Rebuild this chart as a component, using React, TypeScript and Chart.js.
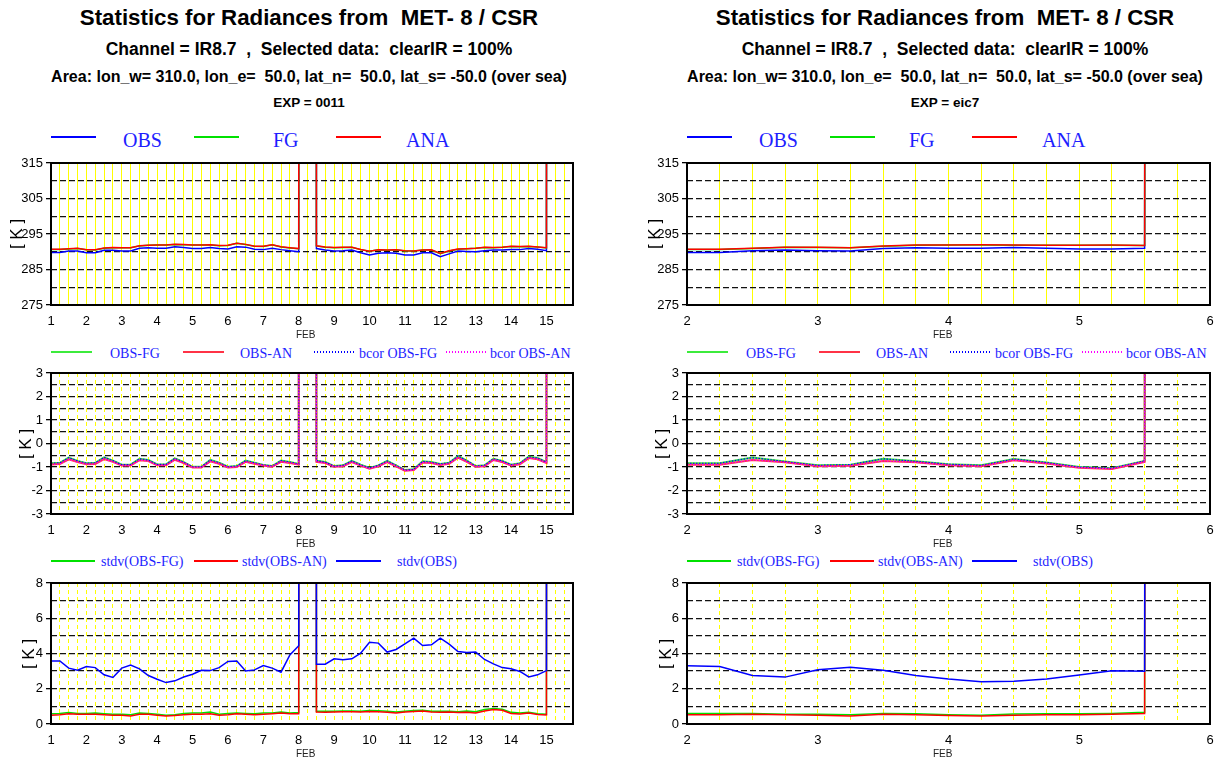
import React, { useEffect, useRef } from "react";
import { Chart, registerables } from "chart.js";

Chart.register(...registerables);

const M = 9999; // missing value marker (drawn off-scale as in the original)

// ---------- time axes (days of FEB) ----------
const xsLeft = [1, 1.25, 1.5, 1.75, 2, 2.25, 2.5, 2.75, 3, 3.25, 3.5, 3.75, 4, 4.25, 4.5, 4.75, 5, 5.25, 5.5, 5.75, 6, 6.25, 6.5, 6.75, 7, 7.25, 7.5, 7.75, 8, 8.25, 8.5, 8.75, 9, 9.25, 9.5, 9.75, 10, 10.25, 10.5, 10.75, 11, 11.25, 11.5, 11.75, 12, 12.25, 12.5, 12.75, 13, 13.25, 13.5, 13.75, 14, 14.25, 14.5, 14.75, 15, 15.25];
const xsRight = [2, 2.25, 2.5, 2.75, 3, 3.25, 3.5, 3.75, 4, 4.25, 4.5, 4.75, 5, 5.25, 5.5, 5.75];

const xTickLabelsLeft = [1, 2, 3, 4, 5, 6, 7, 8, 9, 10, 11, 12, 13, 14, 15];
const xTickLabelsRight = [2, 3, 4, 5, 6];
const yTickLabels1 = [275, 285, 295, 305, 315];
const yTickLabels2 = [-3, -2, -1, 0, 1, 2, 3];
const yTickLabels3 = [0, 2, 4, 6, 8];

// ---------- left column (EXP = 0011) ----------
const obsLeft = [289.8, 289.8, 290.2, 290.2, 289.7, 289.7, 290.4, 290.4, 290.2, 290.2, 291.0, 291.1, 291.0, 291.0, 291.4, 291.2, 290.9, 290.9, 291.2, 290.9, 290.8, 291.4, 291.3, 290.7, 290.6, 291.0, 290.6, 290.3, 290.0, M,
  290.9, 290.5, 290.2, 290.3, 290.5, 289.7, 289.1, 289.6, 289.7, 289.6, 289.1, 289.1, 289.7, 289.7, 288.6, 289.4, 290.2, 290.1, 290.0, 290.3, 290.5, 290.5, 290.6, 290.6, 290.9, 290.7, 290.3, M];
const fgLeft = [290.64, 290.62, 290.80, 290.94, 290.54, 290.52, 290.99, 291.13, 291.10, 291.10, 291.65, 291.80, 291.89, 291.89, 292.03, 291.99, 291.89, 291.89, 291.90, 291.72, 291.79, 292.36, 292.03, 291.52, 291.51, 291.96, 291.33, 291.09, 290.87, M,
  291.63, 291.29, 291.16, 291.23, 291.24, 290.60, 290.14, 290.53, 290.44, 290.53, 290.23, 290.20, 290.46, 290.49, 289.47, 290.22, 290.73, 290.83, 290.96, 291.23, 291.15, 291.24, 291.50, 291.44, 291.46, 291.32, 291.09, M];
const anaLeft = [290.69, 290.67, 290.87, 290.99, 290.58, 290.57, 291.06, 291.18, 291.14, 291.14, 291.71, 291.85, 291.93, 291.93, 292.09, 292.03, 291.92, 291.92, 291.96, 291.76, 291.82, 292.40, 292.08, 291.56, 291.54, 291.99, 291.38, 291.13, 290.90, M,
  291.68, 291.33, 291.19, 291.27, 291.29, 290.64, 290.17, 290.57, 290.49, 290.57, 290.26, 290.23, 290.51, 290.53, 289.51, 290.26, 290.80, 290.88, 290.99, 291.27, 291.20, 291.29, 291.54, 291.48, 291.52, 291.37, 291.13, M];
const obsFgLeft = [-0.84, -0.82, -0.60, -0.74, -0.84, -0.82, -0.59, -0.73, -0.90, -0.90, -0.65, -0.70, -0.89, -0.89, -0.63, -0.79, -0.99, -0.99, -0.70, -0.82, -0.99, -0.96, -0.73, -0.82, -0.91, -0.96, -0.73, -0.79, -0.87, M,
  -0.73, -0.79, -0.96, -0.93, -0.74, -0.90, -1.04, -0.93, -0.74, -0.93, -1.13, -1.10, -0.76, -0.79, -0.87, -0.82, -0.53, -0.73, -0.96, -0.93, -0.65, -0.74, -0.90, -0.84, -0.56, -0.62, -0.79, M];
const obsAnLeft = [-0.89, -0.87, -0.67, -0.79, -0.88, -0.87, -0.66, -0.78, -0.94, -0.94, -0.71, -0.75, -0.93, -0.93, -0.69, -0.83, -1.02, -1.02, -0.76, -0.86, -1.02, -1.00, -0.78, -0.86, -0.94, -0.99, -0.78, -0.83, -0.90, M,
  -0.78, -0.83, -0.99, -0.97, -0.79, -0.94, -1.07, -0.97, -0.79, -0.97, -1.16, -1.13, -0.81, -0.83, -0.91, -0.86, -0.60, -0.78, -0.99, -0.97, -0.70, -0.79, -0.94, -0.88, -0.62, -0.67, -0.83, M];
const bcorObsFgLeft = obsFgLeft; // bias-corrected departures coincide with raw ones
const bcorObsAnLeft = obsAnLeft;
const stdvObsLeft = [3.58, 3.58, 3.17, 3.05, 3.26, 3.20, 2.79, 2.64, 3.17, 3.34, 3.13, 2.75, 2.54, 2.35, 2.45, 2.67, 2.82, 3.05, 3.03, 3.20, 3.55, 3.58, 3.01, 3.07, 3.32, 3.17, 2.94, 3.92, 4.44, M,
  3.39, 3.39, 3.70, 3.64, 3.70, 4.02, 4.64, 4.59, 4.08, 4.23, 4.55, 4.87, 4.45, 4.49, 4.87, 4.53, 4.11, 4.06, 4.09, 3.66, 3.41, 3.20, 3.13, 2.98, 2.67, 2.79, 3.03, M];
const stdvFgLeft = [0.58, 0.60, 0.65, 0.60, 0.60, 0.62, 0.58, 0.55, 0.55, 0.52, 0.62, 0.60, 0.55, 0.50, 0.52, 0.60, 0.62, 0.62, 0.68, 0.56, 0.60, 0.62, 0.60, 0.58, 0.62, 0.62, 0.68, 0.62, 0.65, M,
  0.72, 0.72, 0.73, 0.74, 0.74, 0.73, 0.76, 0.75, 0.72, 0.68, 0.73, 0.76, 0.78, 0.73, 0.72, 0.72, 0.70, 0.74, 0.70, 0.82, 0.88, 0.84, 0.66, 0.62, 0.66, 0.58, 0.55, M];
const stdvAnLeft = [0.50, 0.52, 0.58, 0.55, 0.55, 0.55, 0.52, 0.50, 0.50, 0.45, 0.55, 0.55, 0.50, 0.45, 0.48, 0.52, 0.55, 0.55, 0.58, 0.50, 0.52, 0.58, 0.55, 0.52, 0.55, 0.58, 0.62, 0.58, 0.58, M,
  0.68, 0.67, 0.68, 0.70, 0.69, 0.68, 0.71, 0.70, 0.66, 0.62, 0.68, 0.71, 0.74, 0.68, 0.67, 0.68, 0.65, 0.66, 0.62, 0.74, 0.82, 0.78, 0.60, 0.57, 0.62, 0.54, 0.51, M];

// ---------- right column (EXP = eic7) ----------
const obsRight = [289.8, 289.8, 290.3, 290.5, 290.3, 290.2, 290.9, 291.1, 291.0, 291.0, 291.2, 291.0, 290.8, 290.8, 291.0, M];
const fgRight = [290.64, 290.64, 290.90, 291.27, 291.23, 291.10, 291.55, 291.86, 291.88, 291.93, 291.86, 291.81, 291.80, 291.85, 291.74, M];
const anaRight = [290.70, 290.70, 291.00, 291.30, 291.27, 291.15, 291.64, 291.90, 291.93, 291.97, 291.91, 291.85, 291.83, 291.88, 291.78, M];
const obsFgRight = [-0.84, -0.84, -0.60, -0.77, -0.93, -0.90, -0.65, -0.76, -0.88, -0.93, -0.66, -0.81, -1.00, -1.05, -0.74, M];
const obsAnRight = [-0.90, -0.90, -0.70, -0.80, -0.97, -0.95, -0.74, -0.80, -0.93, -0.97, -0.71, -0.85, -1.03, -1.08, -0.78, M];
const bcorObsFgRight = obsFgRight;
const bcorObsAnRight = obsAnRight;
const stdvObsRight = [3.30, 3.26, 2.75, 2.66, 3.08, 3.22, 3.05, 2.75, 2.55, 2.40, 2.43, 2.55, 2.78, 3.02, 3.00, M];
const stdvFgRight = [0.60, 0.60, 0.60, 0.56, 0.55, 0.52, 0.60, 0.58, 0.52, 0.50, 0.57, 0.58, 0.58, 0.60, 0.66, M];
const stdvAnRight = [0.52, 0.53, 0.56, 0.53, 0.50, 0.46, 0.55, 0.53, 0.48, 0.46, 0.50, 0.52, 0.52, 0.55, 0.60, M];

// ---------- texts ----------
const titleLine1 = "Statistics for Radiances from  MET- 8 / CSR";
const titleLine2 = "Channel = IR8.7  ,  Selected data:  clearIR = 100%";
const titleLine3 = "Area: lon_w= 310.0, lon_e=  50.0, lat_n=  50.0, lat_s= -50.0 (over sea)";
const expNames = ["0011", "eic7"];

// ---------- styling / layout ----------
const SANS = "'Liberation Sans', Arial, Helvetica, sans-serif";
const SERIF = "'Liberation Serif', 'Times New Roman', serif";
const BLUE = "rgb(0,0,255)";
const GREEN = "rgb(0,225,0)";
const RED = "rgb(255,0,0)";
const LGREEN = "rgb(60,235,60)";
const LRED = "rgb(255,50,70)";
const MAGENTA = "rgb(255,0,255)";
const TEXTBLUE = "rgb(30,30,255)";

const PAD_T = 12;
const PAD_R = 16;
const Y_W = 51;
const X_H = 30;
const COL_SHIFT = 636;
const PLOT_L = 51;
const PLOT_W_LEFT = 522;
const PLOT_W_RIGHT = 523;
const PANEL_TOPS = [163, 373, 583];
const PANEL_H = [142, 141, 141];

const framePlugin = {
  id: "frame",
  afterDraw(chart: any) {
    const { ctx, chartArea: a } = chart;
    ctx.save();
    ctx.strokeStyle = "#000";
    ctx.lineWidth = 2;
    ctx.strokeRect(a.left, a.top, a.right - a.left, a.bottom - a.top);
    ctx.restore();
  },
};

type Series = { values: number[]; color: string; width: number; dash?: number[] };

// series are given in drawing order (last one on top); Chart.js paints dataset 0 last,
// so the list is reversed when handed to the library.
function buildConfig(
  xs: number[],
  series: Series[],
  xMin: number,
  xMax: number,
  xLabels: number[],
  yMin: number,
  yMax: number,
  yStep: number,
  yLabels: number[],
  yellowDash: number[]
) {
  const isY = (v: number) => yLabels.some((l) => Math.abs(l - v) < 1e-6);
  const isX = (v: number) => xLabels.some((l) => Math.abs(l - v) < 1e-6);
  return {
    type: "line" as const,
    data: {
      datasets: series
        .slice()
        .reverse()
        .map((s) => ({
          data: xs.map((x, i) => ({ x, y: s.values[i] })),
          borderColor: s.color,
          borderWidth: s.width,
          borderDash: s.dash || [],
          pointRadius: 0,
          tension: 0,
          fill: false,
        })),
    },
    options: {
      animation: false,
      responsive: false,
      maintainAspectRatio: false,
      events: [],
      layout: { padding: { top: PAD_T, right: PAD_R, left: 0, bottom: 0 } },
      plugins: { legend: { display: false }, tooltip: { enabled: false }, title: { display: false } },
      scales: {
        x: {
          type: "linear",
          min: xMin,
          max: xMax,
          afterFit: (s: any) => {
            s.height = X_H;
          },
          ticks: {
            stepSize: 0.25,
            autoSkip: false,
            maxRotation: 0,
            minRotation: 0,
            padding: 9,
            color: "#000",
            font: { family: SANS, size: 13 },
            callback: (v: any) => (isX(Number(v)) ? String(v) : ""),
          },
          grid: { color: "#ffff00", lineWidth: 1, drawTicks: false, z: -2 },
          border: { display: false, dash: yellowDash },
        },
        y: {
          type: "linear",
          min: yMin,
          max: yMax,
          afterFit: (s: any) => {
            s.width = Y_W;
          },
          ticks: {
            stepSize: yStep,
            autoSkip: false,
            padding: 3,
            color: "#000",
            font: { family: SANS, size: 13 },
            callback: (v: any) => (isY(Number(v)) ? String(v) : ""),
          },
          grid: {
            color: "#111",
            lineWidth: 1.3,
            tickLength: 5,
            tickColor: (c: any) => (c.tick && isY(c.tick.value) ? "#000" : "rgba(0,0,0,0)"),
            z: -1,
          },
          border: { display: false, dash: [6, 3] },
        },
      },
    },
    plugins: [framePlugin],
  };
}

type PanelDef = { left: number; top: number; w: number; h: number; config: any };

function ChartPanel({ p }: { p: PanelDef }) {
  const ref = useRef<HTMLCanvasElement | null>(null);
  const cw = p.w + Y_W + PAD_R;
  const chh = p.h + PAD_T + X_H;
  useEffect(() => {
    if (!ref.current) return;
    const chart = new Chart(ref.current, p.config);
    return () => chart.destroy();
  }, []);
  return (
    <canvas
      ref={ref}
      width={cw}
      height={chh}
      style={{ position: "absolute", left: p.left - Y_W, top: p.top - PAD_T, width: cw, height: chh }}
    />
  );
}

function Txt(props: { x: number; cy: number; size: number; family: string; color?: string; bold?: boolean; children: any; center?: boolean }) {
  const { x, cy, size, family, color, bold, children, center } = props;
  const style: any = {
    position: "absolute",
    top: cy - size * 0.5,
    fontFamily: family,
    fontSize: size,
    lineHeight: 1,
    fontWeight: bold ? "bold" : "normal",
    color: color || "#000",
    whiteSpace: "pre",
  };
  if (center) {
    style.left = x - 400;
    style.width = 800;
    style.textAlign = "center";
  } else {
    style.left = x;
  }
  return <div style={style}>{children}</div>;
}

function Seg(props: { x1: number; x2: number; y: number; color: string; width: number; dotted?: boolean }) {
  const { x1, x2, y, color, width, dotted } = props;
  const bg = dotted
    ? `repeating-linear-gradient(90deg, ${color} 0px, ${color} 1.5px, transparent 1.5px, transparent 3px)`
    : color;
  return (
    <div style={{ position: "absolute", left: x1, top: y - width / 2, width: x2 - x1, height: width, background: bg }} />
  );
}

function Column({ col }: { col: number }) {
  const dx = col * COL_SHIFT;
  const left = col === 0;
  const xs = left ? xsLeft : xsRight;
  const xMin = left ? 1 : 2;
  const xMax = left ? 15.75 : 6;
  const xLabels = left ? xTickLabelsLeft : xTickLabelsRight;
  const w = left ? PLOT_W_LEFT : PLOT_W_RIGHT;
  const plotL = PLOT_L + dx;
  const yellowSolid: number[] = [];
  const yellowDashed = [4, 3];

  const p1: PanelDef = {
    left: plotL, top: PANEL_TOPS[0], w, h: PANEL_H[0],
    config: buildConfig(xs, [
      { values: left ? obsLeft : obsRight, color: BLUE, width: 1.5 },
      { values: left ? fgLeft : fgRight, color: GREEN, width: 1.5 },
      { values: left ? anaLeft : anaRight, color: RED, width: 1.5 },
    ], xMin, xMax, xLabels, 275, 315, 5, yTickLabels1, yellowSolid),
  };
  const p2: PanelDef = {
    left: plotL, top: PANEL_TOPS[1], w, h: PANEL_H[1],
    config: buildConfig(xs, [
      { values: left ? obsFgLeft : obsFgRight, color: LGREEN, width: 2 },
      { values: left ? obsAnLeft : obsAnRight, color: LRED, width: 2 },
      { values: left ? bcorObsFgLeft : bcorObsFgRight, color: BLUE, width: 1.2, dash: [1.5, 1.5] },
      { values: left ? bcorObsAnLeft : bcorObsAnRight, color: MAGENTA, width: 1.2, dash: [1.5, 1.5] },
    ], xMin, xMax, xLabels, -3, 3, 0.5, yTickLabels2, yellowDashed),
  };
  const p3: PanelDef = {
    left: plotL, top: PANEL_TOPS[2], w, h: PANEL_H[2],
    config: buildConfig(xs, [
      { values: left ? stdvFgLeft : stdvFgRight, color: GREEN, width: 1.5 },
      { values: left ? stdvAnLeft : stdvAnRight, color: RED, width: 1.5 },
      { values: left ? stdvObsLeft : stdvObsRight, color: BLUE, width: 1.5 },
    ], xMin, xMax, xLabels, 0, 8, 1, yTickLabels3, yellowDashed),
  };

  const cx = 309 + dx;
  const kx = left ? [16, 25, 28] : [654, 661, 665];
  const febX = left ? 296 : 933;
  const febY = [334.5, 543.5, 753.5];

  return (
    <>
      <Txt x={cx} cy={18} size={22.3} family={SANS} bold center>{titleLine1}</Txt>
      <Txt x={cx} cy={50} size={17.5} family={SANS} bold center>{titleLine2}</Txt>
      <Txt x={cx} cy={77} size={16} family={SANS} bold center>{titleLine3}</Txt>
      <Txt x={cx} cy={103} size={13.5} family={SANS} bold center>{"EXP = " + expNames[col]}</Txt>

      {/* legend row 1 */}
      <Seg x1={51 + dx} x2={96 + dx} y={137} color={BLUE} width={1.5} />
      <Txt x={123 + dx} cy={139.5} size={20} family={SERIF} color={TEXTBLUE}>OBS</Txt>
      <Seg x1={194 + dx} x2={239 + dx} y={137} color={GREEN} width={1.5} />
      <Txt x={273 + dx} cy={139.5} size={20} family={SERIF} color={TEXTBLUE}>FG</Txt>
      <Seg x1={336 + dx} x2={381 + dx} y={137} color={RED} width={1.5} />
      <Txt x={406 + dx} cy={139.5} size={20} family={SERIF} color={TEXTBLUE}>ANA</Txt>

      {/* legend row 2 */}
      <Seg x1={51 + dx} x2={92 + dx} y={352} color={LGREEN} width={2} />
      <Txt x={110 + dx} cy={353.5} size={14} family={SERIF} color={TEXTBLUE}>OBS-FG</Txt>
      <Seg x1={183 + dx} x2={224 + dx} y={352} color={LRED} width={2} />
      <Txt x={240 + dx} cy={353.5} size={14} family={SERIF} color={TEXTBLUE}>OBS-AN</Txt>
      <Seg x1={314 + dx} x2={354 + dx} y={352} color={BLUE} width={1.5} dotted />
      <Txt x={359 + dx} cy={353.5} size={14} family={SERIF} color={TEXTBLUE}>bcor OBS-FG</Txt>
      <Seg x1={446 + dx} x2={487 + dx} y={352} color={MAGENTA} width={1.5} dotted />
      <Txt x={490 + dx} cy={353.5} size={14} family={SERIF} color={TEXTBLUE}>bcor OBS-AN</Txt>

      {/* legend row 3 */}
      <Seg x1={51 + dx} x2={95 + dx} y={561} color={GREEN} width={1.5} />
      <Txt x={101 + dx} cy={562} size={14} family={SERIF} color={TEXTBLUE}>stdv(OBS-FG)</Txt>
      <Seg x1={194 + dx} x2={238 + dx} y={561} color={RED} width={1.5} />
      <Txt x={242 + dx} cy={562} size={14} family={SERIF} color={TEXTBLUE}>stdv(OBS-AN)</Txt>
      <Seg x1={336 + dx} x2={381 + dx} y={561} color={BLUE} width={1.5} />
      <Txt x={397 + dx} cy={562} size={14} family={SERIF} color={TEXTBLUE}>stdv(OBS)</Txt>

      <ChartPanel p={p1} />
      <ChartPanel p={p2} />
      <ChartPanel p={p3} />

      {[0, 1, 2].map((i) => (
        <div
          key={"k" + i}
          style={{
            position: "absolute",
            left: kx[i],
            top: PANEL_TOPS[i] + PANEL_H[i] / 2,
            transform: "translate(-50%, -50%) rotate(-90deg)",
            fontFamily: SANS,
            fontSize: 17,
            lineHeight: 1,
            whiteSpace: "pre",
            color: "#000",
          }}
        >
          {"[ K ]"}
        </div>
      ))}
      {febY.map((y, i) => (
        <Txt key={"f" + i} x={febX} cy={y} size={10} family={SANS} color="#222">FEB</Txt>
      ))}
    </>
  );
}

export default function App() {
  return (
    <div style={{ position: "absolute", left: 0, top: 0, width: 1218, height: 760, background: "#fff", overflow: "hidden" }}>
      <Column col={0} />
      <Column col={1} />
    </div>
  );
}
